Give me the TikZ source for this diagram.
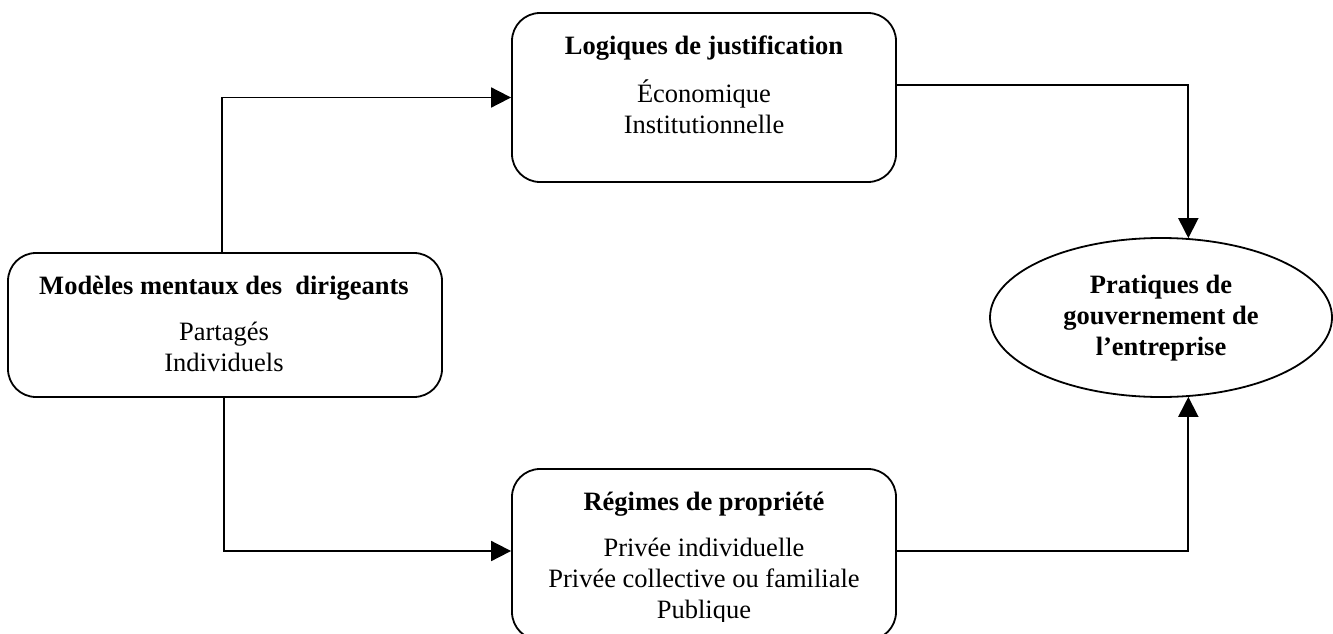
\documentclass[tikz,border=0pt]{standalone}
\usepackage{fontspec}
\setmainfont{Liberation Serif}
\usetikzlibrary{arrows.meta,shapes.geometric}

\tikzset{
  box/.style={draw, line width=1.8pt, rounded corners=28pt, inner sep=0pt},
  oval/.style={draw, ellipse, line width=1.8pt, inner sep=0pt},
  lbl/.style={anchor=base, inner sep=0pt, font=\fontsize{26.5}{30.5}\selectfont},
  link/.style={line width=1.8pt},
  arr/.style={link, -{Triangle[length=20pt,width=20pt]}},
}
\newcommand\boxtext[2]{\begin{tabular}[t]{@{}c@{}}\textbf{#1}\\[16pt]#2\end{tabular}}

\begin{document}
\begin{tikzpicture}[x=1pt,y=-1pt]
\useasboundingbox (0,0) rectangle (1333,634);
\clip (0,0) rectangle (1333,634);

% boxes
\node[box, minimum width=434pt, minimum height=144pt] (mod) at (225,325) {};
\node[box, minimum width=384pt, minimum height=169pt] (log) at (704,97.5) {};
\node[box, minimum width=384pt, minimum height=171pt] (reg) at (704,554.5) {};
\node[oval, minimum width=342pt, minimum height=159pt] (prat) at (1161,317.5) {};

% texts
\node[lbl] (modtxt) at (224,294) {\boxtext{Modèles mentaux des~~dirigeants}{Partagés\\Individuels}};
\node[lbl] (logtxt) at (704,55) {\boxtext{Logiques de justification}{Économique\\Institutionnelle}};
\begin{scope}
  % the text frame of this box cuts its last line
  \clip (0,0) rectangle (1333,621);
  \node[lbl] (regtxt) at (704,510) {\boxtext{Régimes de propriété}{Privée individuelle\\Privée collective ou familiale\\[1pt]Publique}};
\end{scope}
\node[lbl, font=\bfseries\fontsize{26.5}{31}\selectfont] (prattxt) at (1161,293)
  {\begin{tabular}[t]{@{}c@{}}Pratiques de\\gouvernement de\\l’entreprise\end{tabular}};

% connectors
\draw[arr] ([xshift=-3pt]mod.north) |- (log.west);
\draw[arr] ([xshift=-1pt]mod.south) |- (reg.west |- 0,551);
\draw[arr] (log.east |- 0,85) -| (prat.71.7);
\draw[arr] (reg.east |- 0,551) -| (prat.-71.7);
\end{tikzpicture}
\end{document}
